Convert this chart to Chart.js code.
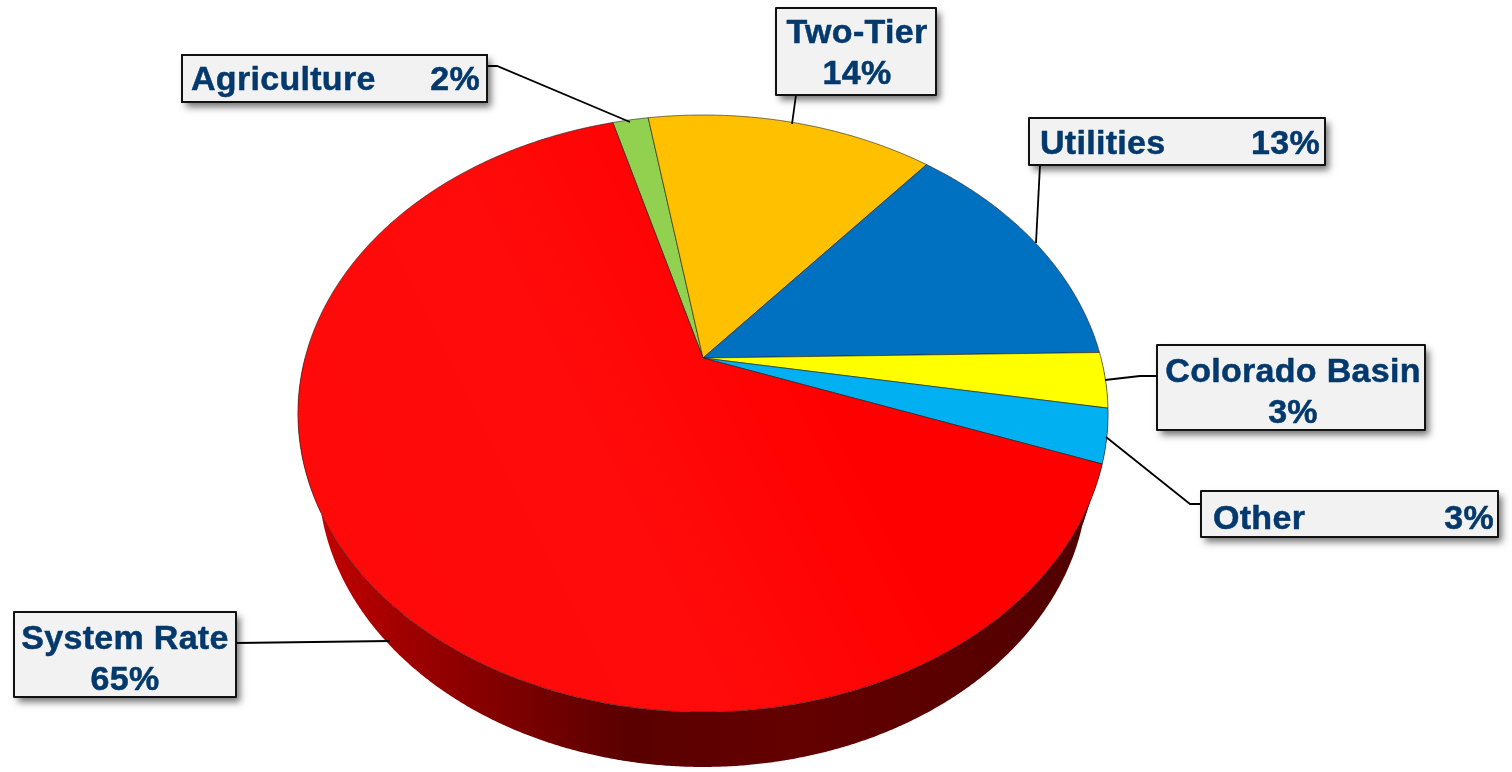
<!DOCTYPE html>
<html>
<head>
<meta charset="utf-8">
<title>Pie</title>
<script src="https://cdn.jsdelivr.net/npm/chart.js@4"></script>
<style>
  html, body { margin: 0; background: #fff; }
  #wrap { position: relative; width: 1512px; height: 772px; }
</style>
</head>
<body>
<div id="wrap"><canvas id="pieChart"></canvas></div>
<script>
// data
const categories = ['Agriculture', 'Two-Tier', 'Utilities', 'Colorado Basin', 'Other', 'System Rate'];
const shares     = [1.7, 13.7, 13.6, 3.0, 2.9, 65.1];
const percents   = ['2%', '14%', '13%', '3%', '3%', '65%'];
const colors     = ['#92d050', '#ffc000', '#0070c0', '#ffff00', '#00b0f0', '#ff0000'];

// ── perspective of the disc: unit circle -> picture ───────────────────────
const CX = 703, P = -0.186;
const top3d = { c: 358, d: 221.6, a: 398 };
const bot3d = { c: 423, d: 201.3, a: 378 };
function project(disc, ang) {
  const u = Math.cos(ang), v = Math.sin(ang), w = 1 + P * v;
  return [CX + disc.a * u / w, (disc.c + disc.d * v) / w];
}

// ── callouts: box, text rows and leader line ──────────────────────────────
const callouts = [
  { box: [182, 55, 305, 47],  left: [191, 90],   right: [480, 90],   line: [[487, 66], [497, 66], [630, 122]] },
  { box: [776, 8, 160, 87],   center: [857, 43, 84],                 line: [[796, 95], [792, 124]] },
  { box: [1029, 118, 296, 47], left: [1040, 154], right: [1320, 154], line: [[1040, 165], [1036, 243]] },
  { box: [1157, 345, 268, 85], center: [1293, 382, 423],             line: [[1157, 376], [1140, 376], [1105, 380]] },
  { box: [1201, 491, 297, 46], left: [1213, 529], right: [1494, 529], line: [[1201, 504], [1190, 504], [1106, 437]] },
  { box: [14, 612, 222, 85],  center: [125, 649, 690],               line: [[236, 643], [390, 641]] }
];

function tracePoly(ctx, pts) {
  ctx.beginPath();
  pts.forEach((p, i) => i ? ctx.lineTo(p[0], p[1]) : ctx.moveTo(p[0], p[1]));
  ctx.closePath();
}

function sampleAngles(a0, a1) {
  const out = [], n = Math.max(2, Math.ceil((a1 - a0) / 0.005));
  for (let i = 0; i <= n; i++) out.push(a0 + (a1 - a0) * i / n);
  return out;
}

const disc3d = {
  id: 'disc3d',
  beforeDatasetDraw(chart, args) {
    const ctx = chart.ctx, arcs = args.meta.data;

    // side wall, only the part of each slice that faces the viewer
    const wall = ctx.createLinearGradient(318, 0, 1090, 0);
    wall.addColorStop(0,    '#c40000');
    wall.addColorStop(0.11, '#a00000');
    wall.addColorStop(0.24, '#800000');
    wall.addColorStop(0.40, '#5a0000');
    wall.addColorStop(0.62, '#640000');
    wall.addColorStop(1,    '#500000');
    arcs.forEach(arc => {
      const a0 = Math.max(arc.startAngle, 0), a1 = Math.min(arc.endAngle, Math.PI);
      if (a1 <= a0) return;
      const as = sampleAngles(a0, a1);
      const pts = as.map(a => project(top3d, a)).concat(as.slice().reverse().map(a => project(bot3d, a)));
      tracePoly(ctx, pts);
      ctx.fillStyle = wall;
      ctx.fill();
    });

    // top face
    arcs.forEach((arc, i) => {
      const pts = [[CX, top3d.c]].concat(sampleAngles(arc.startAngle, arc.endAngle).map(a => project(top3d, a)));
      tracePoly(ctx, pts);
      ctx.fillStyle = colors[i];
      ctx.fill();
      if (colors[i] === '#ff0000') {
        const sheen = ctx.createLinearGradient(300, 650, 1000, 300);
        sheen.addColorStop(0,    'rgba(255,255,255,0.035)');
        sheen.addColorStop(0.45, 'rgba(255,255,255,0.045)');
        sheen.addColorStop(0.75, 'rgba(255,255,255,0)');
        ctx.fillStyle = sheen;
        ctx.fill();
      }
      ctx.strokeStyle = 'rgba(30,30,30,0.6)';
      ctx.lineWidth = 1;
      ctx.stroke();
    });
    return false;
  },
  afterDraw(chart) {
    const ctx = chart.ctx;
    ctx.save();
    callouts.forEach((c, i) => {
      // leader
      ctx.beginPath();
      c.line.forEach((p, j) => j ? ctx.lineTo(p[0], p[1]) : ctx.moveTo(p[0], p[1]));
      ctx.strokeStyle = '#000';
      ctx.lineWidth = 1.8;
      ctx.stroke();

      // box
      ctx.save();
      ctx.shadowColor = 'rgba(0,0,0,0.55)';
      ctx.shadowBlur = 7;
      ctx.shadowOffsetX = 4;
      ctx.shadowOffsetY = 5;
      ctx.fillStyle = '#f2f2f2';
      ctx.fillRect(c.box[0], c.box[1], c.box[2], c.box[3]);
      ctx.restore();
      ctx.strokeStyle = '#111';
      ctx.lineWidth = 2;
      ctx.strokeRect(c.box[0], c.box[1], c.box[2], c.box[3]);

      // text
      ctx.font = 'bold 34px "Liberation Sans", Arial, sans-serif';
      ctx.letterSpacing = '0.3px';
      ctx.fillStyle = '#03396c';
      ctx.strokeStyle = '#03396c';
      ctx.lineWidth = 0.5;
      ctx.lineJoin = 'round';
      ctx.textBaseline = 'alphabetic';
      const put = (txt, x, y) => { ctx.fillText(txt, x, y); ctx.strokeText(txt, x, y); };
      if (c.center) {
        ctx.textAlign = 'center';
        put(categories[i], c.center[0], c.center[1]);
        put(percents[i], c.center[0], c.center[2]);
      } else {
        ctx.textAlign = 'left';
        put(categories[i], c.left[0], c.left[1]);
        ctx.textAlign = 'right';
        put(percents[i], c.right[0], c.right[1]);
      }
    });
    ctx.restore();
  }
};

new Chart(document.getElementById('pieChart'), {
  type: 'pie',
  data: {
    labels: categories,
    datasets: [{ data: shares, backgroundColor: colors }]
  },
  options: {
    responsive: true,
    maintainAspectRatio: false,
    animation: false,
    rotation: -15.5,
    plugins: { legend: { display: false }, tooltip: { enabled: false } }
  },
  plugins: [disc3d]
});
</script>
</body>
</html>
